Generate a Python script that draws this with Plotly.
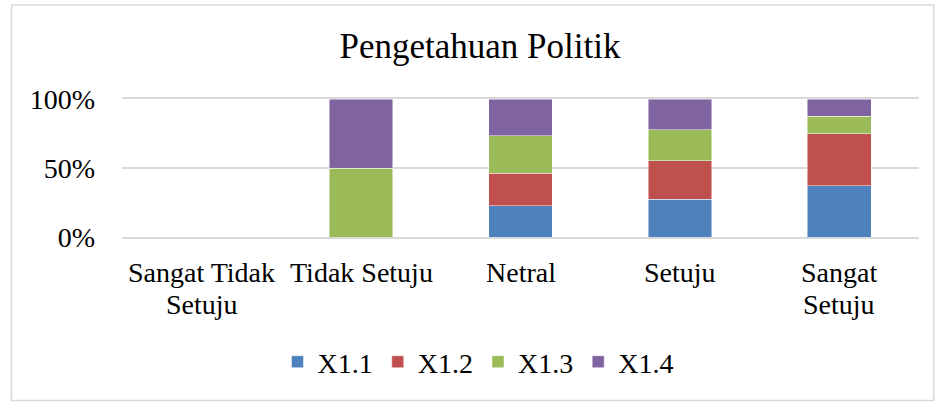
import plotly.graph_objects as go

categories = ["Sangat Tidak Setuju", "Tidak Setuju", "Netral", "Setuju", "Sangat Setuju"]
category_lines = [["Sangat Tidak", "Setuju"], ["Tidak Setuju"], ["Netral"], ["Setuju"], ["Sangat", "Setuju"]]
series_names = ["X1.1", "X1.2", "X1.3", "X1.4"]
x11 = [0, 0, 22.6, 27.2, 37.1]
x12 = [0, 0, 23.5, 27.9, 37.6]
x13 = [0, 50.0, 27.2, 22.5, 12.7]
x14 = [0, 50.0, 26.7, 22.4, 12.6]
colors = ["#4F81BD", "#C0504D", "#9BBB59", "#8064A2"]
y_ticks = [0, 50, 100]
y_tick_labels = ["0%", "50%", "100%"]

W, H = 935, 402
L, R, T, B = 121.5, 16.3, 99, 165
FONT = "Liberation Serif, Times New Roman, serif"

fig = go.Figure()
for name, vals, col in zip(series_names, [x11, x12, x13, x14], colors):
    fig.add_trace(go.Bar(
        x=categories, y=vals, name=name,
        marker=dict(color=col, line=dict(color="rgba(255,255,255,0.6)", width=0.8)),
    ))

pw = W - L - R
ph = H - T - B
def px_x(p):
    return (p - L) / pw
def px_y(p):
    return (H - B - p) / ph

annotations = []
for cat, lines in zip(categories, category_lines):
    for i, line in enumerate(lines):
        annotations.append(dict(
            x=cat, xref="x", y=0, yref="paper", text=line, showarrow=False,
            xanchor="center", yanchor="middle", yshift=-(35 + 32.5 * i),
            font=dict(family=FONT, size=28, color="#000000")))

fig.update_layout(
    width=W, height=H,
    barmode="stack", bargap=0.6,
    margin=dict(l=L, r=R, t=T, b=B, autoexpand=False),
    paper_bgcolor="white", plot_bgcolor="white",
    font=dict(family=FONT, size=28, color="#000000"),
    title=dict(text="Pengetahuan Politik", x=480 / W, xanchor="center",
               xref="container", yref="container", y=1 - 46 / H, yanchor="middle",
               font=dict(family=FONT, size=35, color="#000000")),
    showlegend=True,
    legend=dict(orientation="h", xref="container", yref="container",
                x=478 / W, xanchor="center", y=1 - 362 / H, yanchor="middle",
                font=dict(family=FONT, size=28), traceorder="normal",
                itemwidth=30, tracegroupgap=0),
    xaxis=dict(showgrid=False, showline=True, mirror=True, linecolor="#d9d9d9",
               linewidth=1.5, ticks="", showticklabels=False, fixedrange=True),
    yaxis=dict(range=[0, 100], tickvals=y_ticks, ticktext=y_tick_labels,
               showgrid=True, gridcolor="#d9d9d9", gridwidth=1.5,
               zeroline=False, showline=False, ticks="",
               ticklabelstandoff=26, tickfont=dict(size=28), fixedrange=True),
    annotations=annotations,
    shapes=[dict(type="rect", xref="paper", yref="paper",
                 x0=px_x(11), x1=px_x(933.5), y0=px_y(400.5), y1=px_y(5),
                 line=dict(color="#d9d9d9", width=1.5), fillcolor="rgba(0,0,0,0)",
                 layer="below")],
)

fig.write_html("out.html", config={"displayModeBar": False},
               post_script="document.body.style.margin='0';document.body.style.overflow='hidden';")
